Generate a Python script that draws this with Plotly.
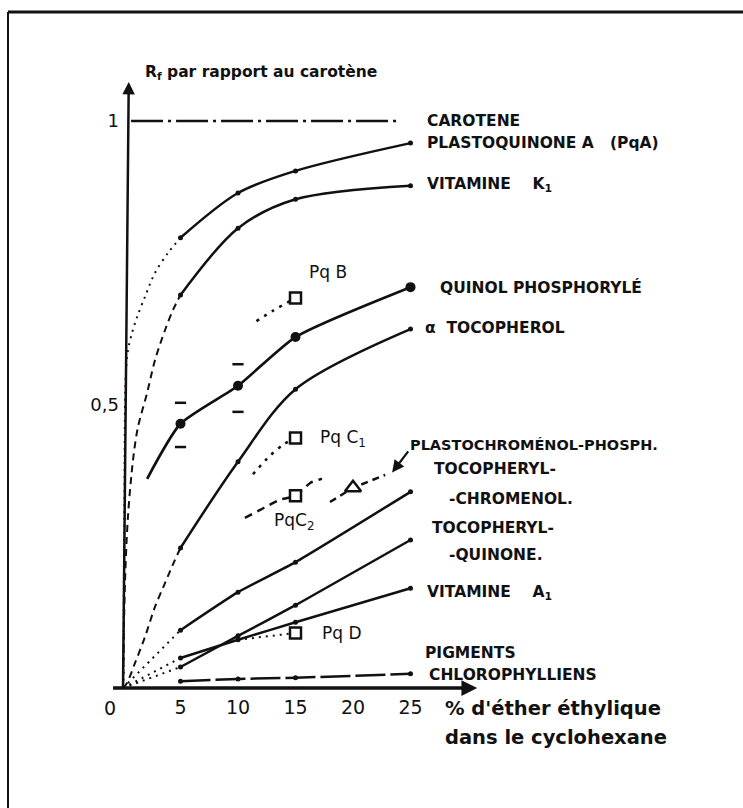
import plotly.graph_objects as go

# ---------------------------------------------------------------- data
# % d'ether ethylique at which each Rf was measured
ether = [5, 10, 15, 25]

carotene_x = [0.7, 23.8]
carotene_y = [1.0, 1.0]

pqa_rf = [0.794, 0.873, 0.912, 0.961]
pqa_lead_x = [0.05, 0.12, 0.35, 0.78, 1.22, 1.91, 2.78, 3.9, 5]
pqa_lead_y = [0.0, 0.30, 0.584, 0.626, 0.654, 0.690, 0.732, 0.767, 0.794]

k1_rf = [0.693, 0.811, 0.862, 0.886]
k1_lead_x = [0.0, 0.17, 0.43, 0.87, 1.30, 2.09, 2.78, 3.65, 4.35, 5]
k1_lead_y = [0.0, 0.185, 0.302, 0.402, 0.460, 0.520, 0.578, 0.631, 0.667, 0.693]

quinol_x = [2.1, 5, 10, 15, 25]
quinol_rf = [0.369, 0.466, 0.533, 0.619, 0.707]
quinol_cap_x = [5, 5, 10, 10]
quinol_cap_y = [0.503, 0.425, 0.571, 0.487]

toco_rf = [0.247, 0.399, 0.527, 0.633]
toco_lead_x = [0.0, 0.35, 1.04, 1.91, 2.78, 3.65, 4.52, 5]
toco_lead_y = [0.0, 0.009, 0.044, 0.090, 0.143, 0.185, 0.226, 0.247]

chromenol_rf = [0.102, 0.169, 0.222, 0.346]
quinone_rf = [0.037, 0.092, 0.146, 0.261]
vita_rf = [0.053, 0.085, 0.116, 0.176]
pigments_rf = [0.012, 0.016, 0.018, 0.025]

pqb_x = [11.6, 13.0, 15]
pqb_y = [0.647, 0.665, 0.688]
pqc1_x = [11.3, 12.8, 14.0, 15]
pqc1_y = [0.377, 0.410, 0.430, 0.441]
pqc2_x = [10.6, 12.2, 13.65, 15, 16.3, 17.3]
pqc2_y = [0.300, 0.317, 0.332, 0.339, 0.362, 0.369]
plasto_x = [18.0, 20, 22.8]
plasto_y = [0.328, 0.353, 0.376]
pqd_x = [10, 15]
pqd_y = [0.085, 0.097]

x_ticks = [5, 10, 15, 20, 25]
y_ticks = [0.5, 1.0]
y_ticktext = ["0,5", "1"]

# ---------------------------------------------------------------- geometry
W, H = 743, 808
X0_PX, Y0_PX = 123, 688        # pixel of the origin
PX_PER_PCT = 11.5              # pixels per % ether
PX_PER_RF = 567                # pixels per Rf unit

x_range = [-X0_PX / PX_PER_PCT, (W - X0_PX) / PX_PER_PCT]
y_range = [-(H - Y0_PX) / PX_PER_RF, Y0_PX / PX_PER_RF]


def at(px, py):
    """Convert a pixel position to data coordinates (for text placement)."""
    return (px - X0_PX) / PX_PER_PCT, (Y0_PX - py) / PX_PER_RF


INK = "#111111"
BOLD = "DejaVu Sans"

fig = go.Figure()


def curve(x, y, width=2.5, dash="solid", shape="spline", smoothing=0.9):
    fig.add_trace(go.Scatter(
        x=x, y=y, mode="lines", hoverinfo="skip",
        line=dict(color=INK, width=width, dash=dash, shape=shape,
                  smoothing=smoothing),
    ))


def points(x, y, symbol="circle", size=5, open_=False, lw=2):
    fig.add_trace(go.Scatter(
        x=x, y=y, mode="markers", hoverinfo="skip", cliponaxis=False,
        marker=dict(symbol=symbol, size=size,
                    color="white" if open_ else INK,
                    line=dict(color=INK, width=lw if open_ else 0)),
    ))


DOT = "2px,5px"
DASH = "7px,5px"

# carotene reference line
curve(carotene_x, carotene_y, width=2.5, dash="32px,5px,3px,5px", shape="linear")

# plastoquinone A
curve(pqa_lead_x, pqa_lead_y, width=2, dash=DOT)
curve(ether, pqa_rf)
points(ether, pqa_rf)

# vitamine K1
curve(k1_lead_x, k1_lead_y, width=2, dash=DASH)
curve(ether, k1_rf)
points(ether, k1_rf)

# quinol phosphorylé
curve(quinol_x, quinol_rf, width=2.7, smoothing=0.6)
points(quinol_x[1:], quinol_rf[1:], size=10)
points(quinol_cap_x, quinol_cap_y, symbol="line-ew", size=8, open_=True, lw=2.5)

# alpha-tocopherol
curve(toco_lead_x, toco_lead_y, width=2, dash=DASH)
curve(ether, toco_rf)
points(ether, toco_rf)

# tocopheryl-chromenol, tocopheryl-quinone, vitamine A1
for rf in (chromenol_rf, quinone_rf, vita_rf):
    curve([0, ether[0]], [0, rf[0]], width=2, dash=DOT, shape="linear")
    curve(ether, rf, smoothing=0.5)
    points(ether, rf)

# pigments chlorophylliens
curve(ether, pigments_rf, width=2.5, dash="30px,5px", shape="linear")
points(ether, pigments_rf)

# plastoquinones B, C1, C2, D and plastochromenol-phosph.
curve(pqb_x, pqb_y, width=2.5, dash="3px,6px")
curve(pqc1_x, pqc1_y, width=2.5, dash="3px,6px")
curve(pqc2_x, pqc2_y, width=2.5, dash="8px,6px", smoothing=0.4)
curve(plasto_x, plasto_y, width=2.5, dash=DASH, shape="linear")
curve(pqd_x, pqd_y, width=2, dash=DOT, shape="linear")
points([pqb_x[-1], pqc1_x[-1], pqc2_x[3], pqd_x[-1]],
       [pqb_y[-1], pqc1_y[-1], pqc2_y[3], pqd_y[-1]],
       symbol="square", size=11, open_=True, lw=2.5)
points([plasto_x[1]], [plasto_y[1]], symbol="triangle-up", size=14,
       open_=True, lw=2.5)

# ---------------------------------------------------------------- text
annotations = []


def label(text, px, py, size=15.5, bold=True, xanchor="left", family=BOLD):
    x, y = at(px, py)
    annotations.append(dict(
        x=x, y=y, xref="x", yref="y", text=text, showarrow=False,
        xanchor=xanchor, yanchor="middle",
        font=dict(family=family, size=size, color=INK,
                  weight="bold" if bold else "normal"),
    ))


NB = "\u00a0"
label("CAROTENE", 425, 121)
label(f"PLASTOQUINONE A{NB}{NB}{NB}(PqA)", 425, 143)
label(f"VITAMINE{NB}{NB}{NB}{NB}K<sub>1</sub>", 425, 185)
label("QUINOL PHOSPHORYLÉ", 438, 287)
label(f"α{NB}{NB}TOCOPHEROL", 423, 328)
label("PLASTOCHROMÉNOL-PHOSPH.", 408, 445, size=14.5)
label("TOCOPHERYL-", 432, 469)
label("-CHROMENOL.", 447, 499)
label("TOCOPHERYL-", 430, 528)
label("-QUINONE.", 447, 555)
label(f"VITAMINE{NB}{NB}{NB}{NB}A<sub>1</sub>", 425, 593)
label("PIGMENTS", 423, 653)
label("CHLOROPHYLLIENS", 427, 675)

label("Pq B", 307, 272, size=17, bold=False)
label("Pq C<sub>1</sub>", 318, 438, size=17, bold=False)
label("PqC<sub>2</sub>", 272, 521, size=17, bold=False)
label("Pq D", 320, 633, size=17, bold=False)

label("R<sub>f</sub> par rapport au carotène", 143, 73, size=15.5)
label("% d'éther éthylique", 443, 708, size=19.5)
label("dans le cyclohexane", 443, 737, size=19.5)
label("0", 110, 708, size=19, bold=False, xanchor="center")

# axis arrows and the pointer to the plastochromenol-phosph. line
arrow_base = dict(xref="x", yref="y", axref="x", ayref="y", text="",
                  showarrow=True, arrowcolor=INK, arrowhead=2)
annotations.append(dict(arrow_base, x=30.8, y=0, ax=-1.0, ay=0,
                        arrowwidth=3.5, arrowsize=0.9))
annotations.append(dict(arrow_base, x=0.5, y=1.069, ax=0, ay=-0.004,
                        arrowwidth=2.5, arrowsize=1.0))
annotations.append(dict(arrow_base, x=23.4, y=0.380, ax=24.9, ay=0.420,
                        arrowwidth=2.2, arrowsize=1.1))

# ---------------------------------------------------------------- frame
fx, fy = 8 / W, 1 - 12 / H
shapes = [
    dict(type="line", xref="paper", yref="paper", x0=fx, y0=fy, x1=1, y1=fy,
         line=dict(color=INK, width=3)),
    dict(type="line", xref="paper", yref="paper", x0=fx, y0=fy, x1=fx, y1=0,
         line=dict(color=INK, width=2)),
]

fig.update_layout(
    width=W, height=H,
    margin=dict(l=0, r=0, t=0, b=0),
    paper_bgcolor="white", plot_bgcolor="white",
    showlegend=False,
    annotations=annotations,
    shapes=shapes,
    xaxis=dict(range=x_range, domain=[0, 1], anchor="free",
               position=(H - Y0_PX) / H,
               showgrid=False, zeroline=False, showline=False,
               tickvals=x_ticks, ticks="", ticklabelstandoff=6,
               tickfont=dict(family="DejaVu Sans", size=19, color=INK),
               fixedrange=True),
    yaxis=dict(range=y_range, domain=[0, 1], anchor="free",
               position=X0_PX / W,
               showgrid=False, zeroline=False, showline=False,
               tickvals=y_ticks, ticktext=y_ticktext, ticks="",
               ticklabelstandoff=4,
               tickfont=dict(family="DejaVu Sans", size=18, color=INK),
               fixedrange=True),
)

fig.write_html("out.html")
